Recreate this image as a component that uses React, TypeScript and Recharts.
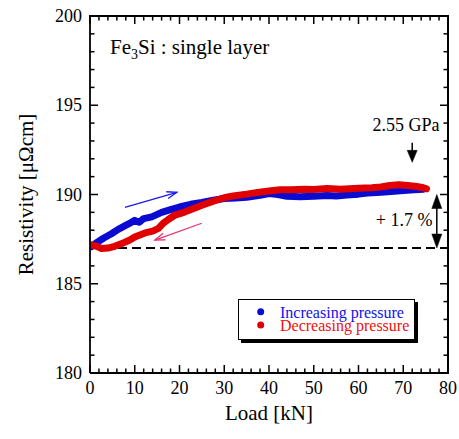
import React from 'react';
import { ComposedChart, Line, XAxis, YAxis, ReferenceLine, ReferenceDot } from 'recharts';

const FONT = "'Liberation Serif', 'Times New Roman', Times, serif";

const incLoad = [0.3, 1.5, 3, 4.8, 6.3, 8.6, 10, 11, 12, 13.8, 16, 18, 20, 22.5, 25, 27.6, 30, 32.5, 35, 38, 40, 42, 44, 47, 50, 53, 55, 57.4, 60, 62, 65, 68, 70, 72.5, 74.5];
const incRes = [187.08, 187.3, 187.55, 187.8, 188.05, 188.35, 188.55, 188.45, 188.65, 188.75, 189.0, 189.15, 189.3, 189.45, 189.55, 189.68, 189.78, 189.8, 189.85, 189.95, 190.05, 190.0, 189.9, 189.88, 189.9, 189.95, 189.92, 189.97, 190.02, 190.08, 190.13, 190.18, 190.22, 190.26, 190.3];

const decLoad = [0.3, 1.5, 2.6, 4, 5.5, 7.1, 8.9, 10, 12.3, 14, 15.3, 16.4, 17.5, 19, 21, 23, 25, 27.6, 30, 32, 35, 37.5, 40, 42.5, 45, 48, 50, 53, 56, 60, 63, 65, 67, 69, 71, 73, 74.5, 75.2];
const decRes = [187.18, 187.1, 186.97, 187.0, 187.1, 187.25, 187.45, 187.62, 187.85, 187.95, 188.1, 188.4, 188.6, 188.85, 189.0, 189.2, 189.4, 189.63, 189.82, 189.92, 190.02, 190.12, 190.2, 190.26, 190.27, 190.3, 190.28, 190.33, 190.3, 190.35, 190.38, 190.42, 190.5, 190.55, 190.5, 190.45, 190.38, 190.32];

const seriesNames = ['Increasing pressure', 'Decreasing pressure'];
const seriesColors = ['#0a0ad0', '#e00000'];
const legendTextColors = ['#1010ee', '#ee1010'];

const xAllTicks = [0, 2, 4, 6, 8, 10, 12, 14, 16, 18, 20, 22, 24, 26, 28, 30, 32, 34, 36, 38, 40, 42, 44, 46, 48, 50, 52, 54, 56, 58, 60, 62, 64, 66, 68, 70, 72, 74, 76, 78, 80];
const xMajorTicks = [0, 10, 20, 30, 40, 50, 60, 70, 80];
const yAllTicks = [180, 181, 182, 183, 184, 185, 186, 187, 188, 189, 190, 191, 192, 193, 194, 195, 196, 197, 198, 199, 200];
const yMajorTicks = [180, 185, 190, 195, 200];

const baseline = 187;

const incData = incLoad.map((x, i) => ({ x, y: incRes[i] }));
const decData = decLoad.map((x, i) => ({ x, y: decRes[i] }));

const txt = (extra: any = {}) => ({ fontFamily: FONT, ...extra });

const bottomLabel = (p: any) => (
  <text x={p.x} y={p.y + 21} textAnchor="middle" fontSize={18} style={txt()} fill="#000">{p.payload.value}</text>
);

const leftLabel = (p: any) => (
  <text x={p.x - 8} y={p.y + 6} textAnchor="end" fontSize={18} style={txt()} fill="#000">{p.payload.value}</text>
);

const xTickShape = (major: boolean) => (p: any) => {
  const { x1, y1, y2 } = p;
  if (typeof x1 !== 'number' || typeof y1 !== 'number' || typeof y2 !== 'number') return <g />;
  const top = Math.min(y1, y2);
  const bot = Math.max(y1, y2);
  const L = major ? 8 : 4.5;
  return (
    <g>
      <line x1={x1} x2={x1} y1={top} y2={top + L} stroke="#000" strokeWidth={1.5} />
      <line x1={x1} x2={x1} y1={bot} y2={bot - L} stroke="#000" strokeWidth={1.5} />
    </g>
  );
};

const yTickShape = (major: boolean) => (p: any) => {
  const { x1, x2, y1 } = p;
  if (typeof x1 !== 'number' || typeof x2 !== 'number' || typeof y1 !== 'number') return <g />;
  const left = Math.min(x1, x2);
  const right = Math.max(x1, x2);
  const L = major ? 8 : 4.5;
  return (
    <g>
      <line x1={left} x2={left + L} y1={y1} y2={y1} stroke="#000" strokeWidth={1.5} />
      <line x1={right} x2={right - L} y1={y1} y2={y1} stroke="#000" strokeWidth={1.5} />
    </g>
  );
};

const makeArrow = (color: string, width: number, style: 'open' | 'filled', both: boolean, len: number, half: number) => (p: any) => {
  const { x1, y1, x2, y2 } = p;
  if ([x1, y1, x2, y2].some((v) => typeof v !== 'number' || isNaN(v))) return <g />;
  const dx = x2 - x1;
  const dy = y2 - y1;
  const L = Math.hypot(dx, dy) || 1;
  const ux = dx / L;
  const uy = dy / L;
  const nx = -uy;
  const ny = ux;
  const head = (tx: number, ty: number, dx1: number, dy1: number, key: string) => {
    const bx = tx - dx1 * len;
    const by = ty - dy1 * len;
    const ax = bx + nx * half, ay = by + ny * half;
    const cx = bx - nx * half, cy = by - ny * half;
    if (style === 'filled') {
      return <polygon key={key} points={`${tx},${ty} ${ax},${ay} ${cx},${cy}`} fill={color} stroke={color} strokeWidth={0.5} />;
    }
    return <polyline key={key} points={`${ax},${ay} ${tx},${ty} ${cx},${cy}`} fill="none" stroke={color} strokeWidth={width} />;
  };
  const shrink = style === 'filled' ? len * 0.8 : 0;
  const sx = both ? x1 + ux * shrink : x1;
  const sy = both ? y1 + uy * shrink : y1;
  const ex = x2 - ux * shrink;
  const ey = y2 - uy * shrink;
  return (
    <g>
      <line x1={sx} y1={sy} x2={ex} y2={ey} stroke={color} strokeWidth={width} />
      {head(x2, y2, ux, uy, 'h2')}
      {both && head(x1, y1, -ux, -uy, 'h1')}
    </g>
  );
};

const textShape = (content: React.ReactNode, anchor: 'start' | 'middle' | 'end', size: number) => (p: any) => (
  <text x={p.cx} y={p.cy} textAnchor={anchor} fontSize={size} style={txt()} fill="#000">{content}</text>
);

const titleShape = (p: any) => (
  <text x={p.cx} y={p.cy} textAnchor="start" fontSize={21} style={txt()} fill="#000">
    <tspan>Fe</tspan>
    <tspan fontSize={14} dy={5}>3</tspan>
    <tspan dy={-5}>Si : single layer</tspan>
  </text>
);

export default function App() {
  return (
    <div style={{ position: 'absolute', left: 0, top: 0, width: 459, height: 439, background: '#fff', fontFamily: FONT }}>
      <ComposedChart width={459} height={439} margin={{ top: 16, right: 11, bottom: 0, left: 0 }} style={{ fontFamily: FONT }}>
        <XAxis
          dataKey="x"
          type="number"
          domain={[0, 80]}
          ticks={xMajorTicks}
          interval={0}
          tickLine={false}
          tickSize={0}
          tickMargin={0}
          height={66}
          axisLine={{ stroke: '#000', strokeWidth: 1.8 }}
          tick={bottomLabel}
          allowDataOverflow
          label={{
            content: (lp: any) => {
              const vb = lp.viewBox || { x: 90, y: 373, width: 358 };
              return (
                <text x={vb.x + vb.width / 2} y={vb.y + 47} textAnchor="middle" fontSize={21} style={txt()} fill="#000">Load [kN]</text>
              );
            },
          }}
        />
        <YAxis
          type="number"
          domain={[180, 200]}
          ticks={yMajorTicks}
          interval={0}
          tickLine={false}
          tickSize={0}
          tickMargin={0}
          width={90}
          axisLine={{ stroke: '#000', strokeWidth: 1.8 }}
          tick={leftLabel}
          allowDataOverflow
          label={{
            content: (lp: any) => {
              const vb = lp.viewBox || { x: 0, y: 16, width: 90, height: 357 };
              const cx = 33;
              const cy = vb.y + vb.height / 2;
              return (
                <text x={cx} y={cy} transform={`rotate(-90, ${cx}, ${cy})`} textAnchor="middle" fontSize={21} style={txt()} fill="#000">Resistivity [μΩcm]</text>
              );
            },
          }}
        />

        <ReferenceLine segment={[{ x: 0, y: 200 }, { x: 80, y: 200 }]} stroke="#000" strokeWidth={1.8} ifOverflow="visible" />
        <ReferenceLine segment={[{ x: 80, y: 180 }, { x: 80, y: 200 }]} stroke="#000" strokeWidth={1.8} ifOverflow="visible" />

        {xAllTicks.map((v) => (
          <ReferenceLine key={`xt${v}`} segment={[{ x: v, y: 180 }, { x: v, y: 200 }]} ifOverflow="visible" shape={xTickShape(xMajorTicks.includes(v))} />
        ))}
        {yAllTicks.map((v) => (
          <ReferenceLine key={`yt${v}`} segment={[{ x: 0, y: v }, { x: 80, y: v }]} ifOverflow="visible" shape={yTickShape(yMajorTicks.includes(v))} />
        ))}

        <ReferenceLine y={baseline} stroke="#000" strokeWidth={2} strokeDasharray="9 5" />

        <Line data={incData} dataKey="y" name={seriesNames[0]} type="linear" stroke={seriesColors[0]} strokeWidth={7} strokeLinecap="round" strokeLinejoin="round" dot={false} activeDot={false} isAnimationActive={false} />
        <Line data={decData} dataKey="y" name={seriesNames[1]} type="linear" stroke={seriesColors[1]} strokeWidth={7} strokeLinecap="round" strokeLinejoin="round" dot={false} activeDot={false} isAnimationActive={false} />

        <ReferenceLine segment={[{ x: 7.8, y: 189.28 }, { x: 19.4, y: 190.12 }]} shape={makeArrow('#1a1aee', 1.3, 'open', false, 10, 3.5)} />
        <ReferenceLine segment={[{ x: 24.96, y: 188.39 }, { x: 14.5, y: 187.45 }]} shape={makeArrow('#e8336b', 1.3, 'open', false, 10, 3.5)} />
        <ReferenceLine segment={[{ x: 72, y: 192.9 }, { x: 72, y: 191.8 }]} shape={makeArrow('#000', 1.5, 'filled', false, 12, 5)} />
        <ReferenceLine segment={[{ x: 77.5, y: 190 }, { x: 77.5, y: 187 }]} shape={makeArrow('#000', 1.5, 'filled', true, 14, 5)} />

        <ReferenceDot x={4.47} y={197.87} r={0} shape={titleShape} />
        <ReferenceDot x={70.6} y={193.56} r={0} shape={textShape('2.55 GPa', 'middle', 18)} />
        <ReferenceDot x={70.2} y={188.24} r={0} shape={textShape('+ 1.7 %', 'middle', 18)} />
      </ComposedChart>

      {/* plot frame (top and right edges) */}
      <div
        style={{
          position: 'absolute',
          left: 89,
          top: 15,
          width: 358,
          height: 357,
          borderTop: '2px solid #000',
          borderRight: '2px solid #000',
          pointerEvents: 'none',
        }}
      />

      <div
        style={{
          position: 'absolute',
          left: 238,
          top: 299,
          width: 175,
          height: 39,
          border: '1px solid #000',
          boxShadow: '3px 3px 0 #000',
          background: '#fff',
        }}
      >
        <svg width={175} height={39} style={{ display: 'block' }}>
          {seriesNames.map((n, i) => (
            <g key={n}>
              <circle cx={21.7} cy={11.7 + i * 13.3} r={3.5} fill={seriesColors[i]} />
              <text x={41} y={17.5 + i * 13.3} fontSize={16} style={txt()} fill={legendTextColors[i]}>{n}</text>
            </g>
          ))}
        </svg>
      </div>
    </div>
  );
}
